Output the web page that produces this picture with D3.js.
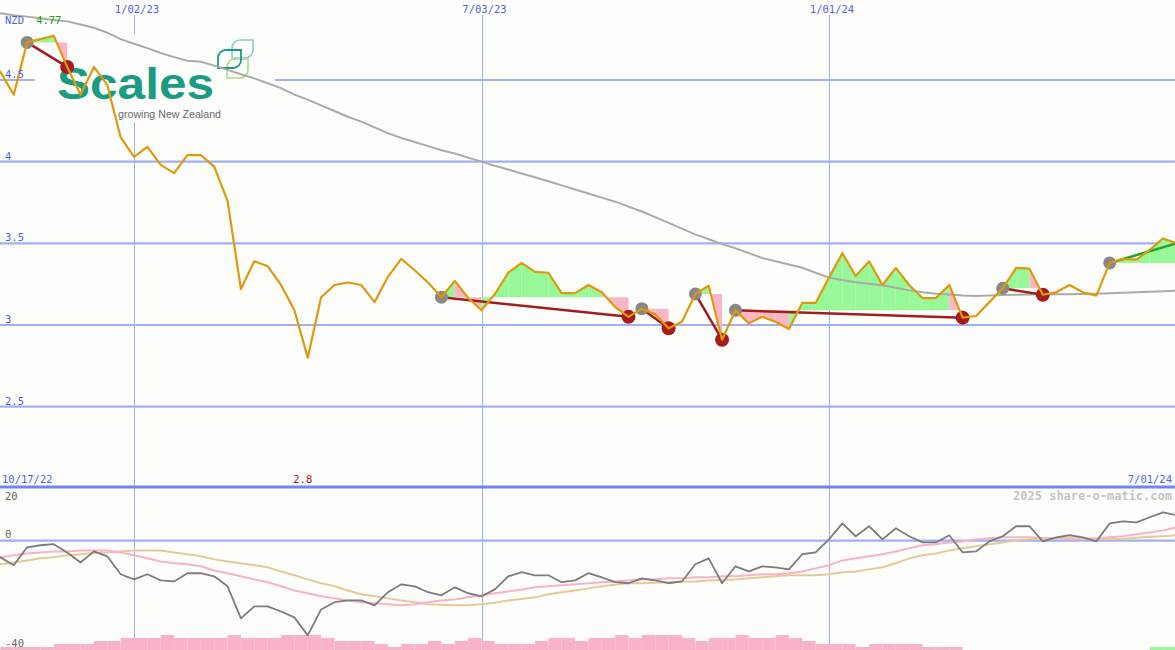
<!DOCTYPE html>
<html>
<head>
<meta charset="utf-8">
<script src="https://cdn.jsdelivr.net/npm/d3@7"></script>
<style>
  html, body { margin: 0; padding: 0; background: #fdfefc; }
  svg { display: block; }
  text { font-family: "DejaVu Sans Mono", "Liberation Mono", monospace; }
</style>
</head>
<body>
<svg id="chart" width="1175" height="650"></svg>
<script>
// ---- weekly series, one value per Monday from 10/17/22 to 7/01/24 ----
const firstWeek = new Date(2022, 9, 17);
const lastWeek = new Date(2024, 6, 1);

// closing price (NZD)
const price = [
  4.60, 4.55, 4.41, 4.73, 4.75, 4.77, 4.58, 4.41, 4.58, 4.47,
  4.15, 4.03, 4.09, 3.98, 3.93, 4.04, 4.04, 3.97, 3.76, 3.22,
  3.39, 3.36, 3.245, 3.09, 2.80, 3.17, 3.245, 3.26, 3.245, 3.14,
  3.295, 3.405, 3.335, 3.26, 3.17, 3.27, 3.165, 3.09, 3.19, 3.32,
  3.38, 3.325, 3.32, 3.195, 3.195, 3.245, 3.20, 3.11, 3.05, 3.10,
  3.065, 2.98, 3.02, 3.19, 3.24, 2.91, 3.09, 3.01, 3.05, 3.02,
  2.975, 3.135, 3.135, 3.29, 3.44, 3.30, 3.39, 3.245, 3.35, 3.245,
  3.165, 3.165, 3.245, 3.045, 3.055, 3.14, 3.225, 3.35, 3.345, 3.185,
  3.20, 3.245, 3.20, 3.18, 3.38, 3.405, 3.40, 3.46, 3.53, 3.50
];

// long moving average of price
const priceAvg = [
  4.92, 4.908, 4.897, 4.888, 4.878, 4.868, 4.859, 4.84, 4.82, 4.79,
  4.75, 4.722, 4.695, 4.665, 4.64, 4.618, 4.612, 4.588, 4.562, 4.535,
  4.51, 4.48, 4.45, 4.41, 4.38, 4.345, 4.31, 4.275, 4.245, 4.21,
  4.175, 4.145, 4.12, 4.095, 4.07, 4.05, 4.025, 4.0, 3.975, 3.952,
  3.928, 3.905, 3.88, 3.855, 3.83, 3.805, 3.78, 3.755, 3.725, 3.695,
  3.66, 3.625, 3.59, 3.555, 3.525, 3.495, 3.47, 3.44, 3.41, 3.39,
  3.37, 3.35, 3.32, 3.29, 3.275, 3.262, 3.252, 3.243, 3.228, 3.212,
  3.2, 3.192, 3.186, 3.18, 3.178, 3.18, 3.183, 3.185, 3.186, 3.187,
  3.188, 3.189, 3.19, 3.192, 3.195, 3.197, 3.2, 3.203, 3.206, 3.21
];

// momentum oscillator (lower panel)
const momentum = [
  -4, -6.5, -9.6, -2.6, -1.8, -1.4, -4.6, -8.5, -4.2, -6.1,
  -13.1, -15.1, -13.1, -15.5, -15.9, -12.7, -12.7, -13.9, -17.8, -30.3,
  -25.6, -25.6, -27.6, -29.9, -36.9, -26.8, -24.0, -23.3, -23.3, -25.2,
  -20.1, -17.0, -17.8, -20.1, -21.3, -18.2, -20.5, -21.7, -19.0, -13.9,
  -12.3, -13.5, -13.5, -16.2, -15.5, -12.7, -14.3, -16.2, -16.6, -14.7,
  -15.5, -16.6, -15.9, -9.2, -6.9, -16.6, -10.0, -12.0, -10.0, -10.4,
  -11.2, -5.3, -4.6, 0.5, 6.7, 1.7, 5.6, 0.5, 4.8, 1.7,
  -0.7, -0.7, 2.1, -4.6, -4.2, -0.3, 1.7, 5.6, 5.6, -0.3,
  1.3, 2.1, 1.3, -0.3, 6.7, 7.5, 7.1, 9.1, 11.0, 9.9
];

// faster average of momentum (pink)
const momentumFast = [
  -7.3, -6.5, -5.7, -5.0, -4.6, -4.2, -4.2, -3.8, -3.8, -3.8,
  -4.6, -5.7, -6.9, -8.1, -8.8, -9.2, -10.0, -11.6, -12.7, -13.9,
  -15.1, -16.2, -17.8, -19.4, -20.5, -21.7, -22.5, -23.3, -24.0, -24.4,
  -24.8, -25.2, -24.8, -24.0, -23.3, -22.9, -22.1, -21.3, -20.5, -19.8,
  -19.0, -18.2, -17.8, -17.4, -17.0, -16.6, -16.2, -15.9, -15.5, -15.1,
  -15.1, -14.7, -14.7, -14.3, -14.3, -13.9, -13.9, -13.5, -13.1, -13.1,
  -12.7, -12.0, -10.8, -9.6, -7.7, -6.9, -6.1, -5.3, -4.2, -3.0,
  -1.8, -1.4, -0.7, -0.3, 0.5, 0.9, 1.3, 1.3, 1.3, 0.9,
  0.9, 0.5, 0.5, 0.9, 1.3, 1.7, 2.5, 3.2, 4.0, 5.2
];

// slower average of momentum (tan)
const momentumSlow = [
  -10.0, -9.2, -8.5, -7.7, -6.9, -6.5, -5.7, -5.3, -4.8, -4.6,
  -4.2, -3.8, -3.8, -3.8, -4.6, -5.3, -6.1, -7.3, -8.1, -8.8,
  -9.6, -10.4, -12.0, -13.5, -15.1, -16.6, -17.8, -19.4, -20.9, -21.7,
  -22.5, -23.3, -24.0, -24.8, -25.0, -25.2, -25.2, -24.8, -24.2, -23.3,
  -22.7, -22.1, -20.9, -20.1, -19.4, -18.6, -17.8, -17.2, -16.6, -16.6,
  -16.4, -16.2, -16.0, -15.9, -15.5, -15.3, -15.1, -14.7, -14.3, -13.9,
  -13.5, -13.5, -13.5, -13.1, -12.3, -12.0, -11.2, -10.4, -8.8, -6.9,
  -5.7, -5.0, -3.8, -3.0, -2.2, -1.4, -0.7, 0.1, 0.5, 0.9,
  0.9, 0.9, 0.9, 0.7, 0.5, 0.7, 1.1, 1.5, 1.7, 2.1
];

// weekly trend-strength histogram along the bottom (0-5)
const downBars = [
  1, 1, 1, 1, 1, 2, 2, 2, 3, 3,
  4, 4, 4, 5, 4, 4, 4, 4, 5, 4,
  4, 4, 5, 5, 5, 4, 3, 3, 3, 2,
  1, 2, 2, 3, 2, 3, 4, 3, 2, 2,
  2, 3, 4, 4, 3, 4, 4, 5, 4, 5,
  5, 5, 4, 3, 4, 4, 5, 4, 4, 5,
  4, 3, 2, 2, 2, 1, 2, 2, 2, 2,
  1, 1, 1, 0, 0, 0, 0, 0, 0, 0,
  0, 0, 0, 0, 0, 0, 0, 0, 0, 0
];
const upBars = [
  0, 0, 0, 0, 0, 0, 0, 0, 0, 0,
  0, 0, 0, 0, 0, 0, 0, 0, 0, 0,
  0, 0, 0, 0, 0, 0, 0, 0, 0, 0,
  0, 0, 0, 0, 0, 0, 0, 0, 0, 0,
  0, 0, 0, 0, 0, 0, 0, 0, 0, 0,
  0, 0, 0, 0, 0, 0, 0, 0, 0, 0,
  0, 0, 0, 0, 0, 0, 0, 0, 0, 0,
  0, 0, 0, 0, 0, 0, 0, 0, 0, 0,
  0, 0, 0, 0, 0, 0, 0, 1, 1, 1
];

// swing segments: week index where each swing starts and ends
const swingStart = [3, 34, 49, 53, 56, 76, 84];
const swingEnd   = [6, 48, 51, 55, 73, 79, 89];
const swingOpen  = [false, false, false, false, false, false, true];

// axis ticks
const priceTicks = [2.5, 3, 3.5, 4, 4.5];
const priceTickLabels = ["2.5", "3", "3.5", "4", "4.5"];
const dateTicks = [new Date(2023, 0, 2), new Date(2023, 6, 3), new Date(2024, 0, 1)];
const dateTickLabels = ["1/02/23", "7/03/23", "1/01/24"];
const momentumTicks = [20, 0, -40];
const momentumTickLabels = ["20", "0", "-40"];
const currencyLabel = "NZD";
const rangeStartLabel = "10/17/22";
const rangeEndLabel = "7/01/24";
const creditLabel = "2025 share-o-matic.com";

// ---- drawing ----
const W = 1175, H = 650;
const svg = d3.select("#chart");
const weeks = d3.timeMonday.range(firstWeek, d3.timeDay.offset(lastWeek, 1));

const x = d3.scaleTime().domain([dateTicks[0], dateTicks[2]]).range([134, 829]);
const y = d3.scaleLinear().domain([3, 4.5]).range([325, 80]);
const yM = d3.scaleLinear().domain([-40, 20]).range([643.3, 489.3]);
const yBar = d3.scaleLinear().domain([0, 5]).range([650, 635]);

const GRID = "#a2b0f2";
const AXIS_TEXT = "#4f5ff0";
const GREEN_FILL = "#98f898";
const PINK_FILL = "#fbb6c6";

svg.append("rect").attr("width", W).attr("height", H).attr("fill", "#fdfefc");

// gridlines
const grid = svg.append("g");
grid.selectAll("line.h").data(priceTicks).join("line")
  .attr("x1", 0).attr("x2", W)
  .attr("y1", d => y(d)).attr("y2", d => y(d))
  .attr("stroke", GRID).attr("stroke-width", 2.2);
grid.selectAll("line.v").data(dateTicks).join("line")
  .attr("x1", d => Math.round(x(d)) + 0.5).attr("x2", d => Math.round(x(d)) + 0.5)
  .attr("y1", 15).attr("y2", H)
  .attr("stroke", GRID).attr("stroke-width", 1);
grid.append("line").attr("x1", 0).attr("x2", W)
  .attr("y1", yM(0)).attr("y2", yM(0))
  .attr("stroke", GRID).attr("stroke-width", 2.2);
grid.append("line").attr("x1", 0).attr("x2", W)
  .attr("y1", 487).attr("y2", 487)
  .attr("stroke", "#7483ee").attr("stroke-width", 2.8);

// company logo
const logo = svg.append("g");
logo.append("rect").attr("x", 35).attr("y", 34).attr("width", 240).attr("height", 88).attr("fill", "#fdfefc");
function leaf(x0, y0, w, h, r) {
  return `M${x0 + r},${y0}H${x0 + w}V${y0 + h - r}A${r},${r} 0 0 1 ${x0 + w - r},${y0 + h}` +
         `H${x0}V${y0 + r}A${r},${r} 0 0 1 ${x0 + r},${y0}Z`;
}
logo.append("path").attr("d", leaf(232, 40, 21, 18, 8)).attr("fill", "none").attr("stroke", "#86d0c4").attr("stroke-width", 1.6);
logo.append("path").attr("d", leaf(227, 59, 21, 19, 8)).attr("fill", "none").attr("stroke", "#a9d98d").attr("stroke-width", 1.6);
logo.append("path").attr("d", leaf(218, 50, 23, 18, 8)).attr("fill", "none").attr("stroke", "#1a9c82").attr("stroke-width", 1.8);
logo.append("text").attr("x", 57).attr("y", 99)
  .attr("textLength", 157).attr("lengthAdjust", "spacingAndGlyphs")
  .style("font-family", "'Liberation Sans', Arial, sans-serif")
  .style("font-weight", 700).style("font-size", "45px")
  .attr("fill", "#1a9c82").text("Scales");
logo.append("text").attr("x", 118).attr("y", 118)
  .attr("textLength", 103).attr("lengthAdjust", "spacingAndGlyphs")
  .style("font-family", "'Liberation Sans', Arial, sans-serif")
  .style("font-size", "11px").attr("fill", "#6a6a6a").text("growing New Zealand");

// swing fills: each weekly step shaded between price and the swing's starting level
const fills = svg.append("g");
swingStart.forEach((s, j) => {
  const base = price[s];
  const area = d3.area().x(d => x(weeks[d])).y0(y(base)).y1(d => y(price[d]));
  for (let i = s; i < swingEnd[j]; i++) {
    fills.append("path").datum([i, i + 1]).attr("d", area)
      .attr("fill", price[i + 1] >= base ? GREEN_FILL : PINK_FILL);
  }
});

// price moving average
svg.append("path").datum(d3.range(weeks.length))
  .attr("d", d3.line().x(i => x(weeks[i])).y(i => y(priceAvg[i])))
  .attr("fill", "none").attr("stroke", "#aaaaaa").attr("stroke-width", 2);

// swing trend lines and markers
const swings = svg.append("g");
swingStart.forEach((s, j) => {
  const e = swingEnd[j];
  swings.append("line")
    .attr("x1", x(weeks[s])).attr("y1", y(price[s]))
    .attr("x2", x(weeks[e])).attr("y2", y(price[e]))
    .attr("stroke", swingOpen[j] ? "#22a32a" : "#a11d1d").attr("stroke-width", 2.5);
});
swingStart.forEach((s, j) => {
  swings.append("circle").attr("cx", x(weeks[s])).attr("cy", y(price[s])).attr("r", 6.5).attr("fill", "#888888");
  if (!swingOpen[j]) {
    const e = swingEnd[j];
    swings.append("circle").attr("cx", x(weeks[e])).attr("cy", y(price[e])).attr("r", 7).attr("fill", "#a61c1c");
  }
});

// price line
svg.append("path").datum(d3.range(weeks.length))
  .attr("d", d3.line().x(i => x(weeks[i])).y(i => y(price[i])))
  .attr("fill", "none").attr("stroke", "#dd9a0c").attr("stroke-width", 2.2)
  .attr("stroke-linejoin", "round");

// lower panel: histogram bars
const bars = svg.append("g");
weeks.forEach((w, i) => {
  const x0 = x(w), x1 = x(d3.timeWeek.offset(w, 1));
  if (downBars[i] > 0) bars.append("rect").attr("x", x0).attr("width", x1 - x0)
    .attr("y", yBar(downBars[i])).attr("height", yBar(0) - yBar(downBars[i])).attr("fill", "#f9b3c7");
  if (upBars[i] > 0) bars.append("rect").attr("x", x0).attr("width", x1 - x0)
    .attr("y", yBar(upBars[i])).attr("height", yBar(0) - yBar(upBars[i])).attr("fill", "#98f898");
});

// lower panel: momentum lines
const mLine = arr => d3.line().x(i => x(weeks[i])).y(i => yM(arr[i]));
svg.append("path").datum(d3.range(weeks.length)).attr("d", mLine(momentumSlow))
  .attr("fill", "none").attr("stroke", "#e3cb98").attr("stroke-width", 2);
svg.append("path").datum(d3.range(weeks.length)).attr("d", mLine(momentumFast))
  .attr("fill", "none").attr("stroke", "#f8b2c6").attr("stroke-width", 2);
svg.append("path").datum(d3.range(weeks.length)).attr("d", mLine(momentum))
  .attr("fill", "none").attr("stroke", "#7c7c7c").attr("stroke-width", 1.8)
  .attr("stroke-linejoin", "round");

// labels
const labels = svg.append("g").style("font-size", "10.5px");
labels.selectAll("text.py").data(priceTicks).join("text")
  .attr("x", 5).attr("y", d => y(d) - 2).attr("fill", AXIS_TEXT)
  .text((d, i) => priceTickLabels[i]);
labels.selectAll("text.dx").data(dateTicks).join("text")
  .attr("x", d => x(d) + 3).attr("y", 13).attr("text-anchor", "middle").attr("fill", AXIS_TEXT)
  .text((d, i) => dateTickLabels[i]);
labels.append("text").attr("x", 5).attr("y", 24).attr("fill", AXIS_TEXT).text(currencyLabel);

const iMax = d3.maxIndex(price), iMin = d3.minIndex(price);
labels.append("text").attr("x", x(weeks[iMax]) - 5).attr("y", 24).attr("text-anchor", "middle")
  .attr("fill", "#22a022").text(String(price[iMax]));
labels.append("text").attr("x", x(weeks[iMin]) - 5).attr("y", 483).attr("text-anchor", "middle")
  .attr("fill", "#a01c1c").text(String(price[iMin]));

labels.append("text").attr("x", 2).attr("y", 483).attr("fill", AXIS_TEXT).text(rangeStartLabel);
labels.append("text").attr("x", 1172).attr("y", 483).attr("text-anchor", "end").attr("fill", AXIS_TEXT).text(rangeEndLabel);

// lower-panel tick labels: top one sits inside the panel, bottom one on the floor
const mTop = d3.max(momentumTicks), mBottom = d3.min(momentumTicks);
labels.selectAll("text.my").data(momentumTicks).join("text")
  .attr("x", 5)
  .attr("y", d => d === mTop ? yM(d) + 11 : d === mBottom ? yM(d) + 4 : yM(d) - 3)
  .attr("fill", "#666666").text((d, i) => momentumTickLabels[i]);

svg.append("text").attr("x", 1172).attr("y", 500).attr("text-anchor", "end")
  .style("font-size", "12px").style("font-weight", "bold")
  .attr("fill", "#c4c4c4").text(creditLabel);
</script>
</body>
</html>
